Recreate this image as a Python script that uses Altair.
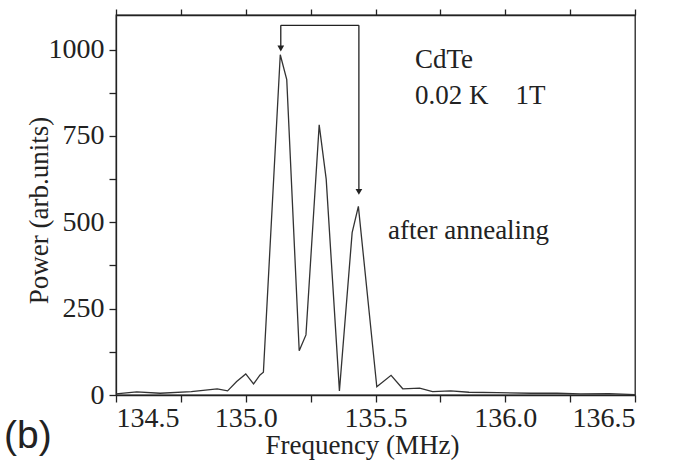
import altair as alt
import pandas as pd

# Spectrum
freq = [134.50, 134.58, 134.67, 134.79, 134.89, 134.93, 134.965, 135.00, 135.03,
        135.055, 135.068, 135.133, 135.158, 135.206, 135.232, 135.283, 135.31,
        135.361, 135.41, 135.434, 135.505, 135.56, 135.605, 135.67, 135.72,
        135.79, 135.86, 135.97, 136.10, 136.20, 136.29, 136.40, 136.50]
power = [3, 9, 5, 10, 18, 12, 39, 61, 32,
         58, 66, 985, 913, 128, 174, 782, 625,
         12, 470, 546, 24, 57, 18, 20, 10,
         12, 8, 7, 5, 5, 3, 4, 1]

x_ticks = [134.5, 134.75, 135.0, 135.25, 135.5, 135.75, 136.0, 136.25, 136.5]
y_ticks = [0, 125, 250, 375, 500, 625, 750, 875, 1000]

# bracket between the first and third peaks
bracket_x = [135.135, 135.436]
bracket_top = 1070
arrow_tips = [1003, 588]

notes_text = ["CdTe", "0.02 K\u00a0\u00a0\u00a0\u00a01T", "after annealing"]
notes_x = [135.652, 135.652, 135.548]
notes_y = [948, 843, 452]

df = pd.DataFrame({"freq": freq, "power": power})
xs = alt.Scale(domain=[134.5, 136.5], nice=False, zero=False)
ys = alt.Scale(domain=[0, 1100], nice=False)

FONT = "Liberation Serif"

x_axis = alt.Axis(
    values=x_ticks,
    labelExpr="abs(datum.value*2 - round(datum.value*2)) < 0.001 ? format(datum.value, '.1f') : ''",
    title="Frequency (MHz)", grid=False, tickSize=7, labelPadding=2,
    labelFontSize=28, titleFontSize=27, titleFontWeight="normal",
    titleX=246, titleY=58, titleBaseline="alphabetic", titleAnchor="middle",
)
y_axis = alt.Axis(
    values=y_ticks,
    labelExpr="datum.value % 250 == 0 ? format(datum.value, 'd') : ''",
    title="Power (arb.units)", grid=False, tickSize=7, labelPadding=5,
    labelFontSize=28, titleFontSize=27, titleFontWeight="normal",
    titleX=-69, titleY=195, titleBaseline="alphabetic", titleAnchor="middle",
)

line = alt.Chart(df).mark_line(color="#333333", strokeWidth=1.3).encode(
    x=alt.X("freq:Q", scale=xs, axis=x_axis),
    y=alt.Y("power:Q", scale=ys, axis=y_axis),
)

top_axis = alt.Chart(df).mark_line(opacity=0).encode(
    x=alt.X("freq:Q", scale=xs, axis=alt.Axis(orient="top", values=x_ticks, labels=False,
                                               title=None, grid=False, tickSize=6)),
    y=alt.Y("power:Q", scale=ys),
)

br_df = pd.DataFrame({"x1": [bracket_x[0]], "x2": [bracket_x[1]], "y": [bracket_top]})
br_h = alt.Chart(br_df).mark_rule(color="#222222", strokeWidth=1.3).encode(
    x=alt.X("x1:Q", scale=xs, axis=None), x2="x2:Q", y=alt.Y("y:Q", scale=ys))

vert_df = pd.DataFrame({"x": bracket_x, "top": [bracket_top] * 2, "tip": arrow_tips})
br_v = alt.Chart(vert_df).mark_rule(color="#222222", strokeWidth=1.3).encode(
    x=alt.X("x:Q", scale=xs, axis=None), y=alt.Y("top:Q", scale=ys), y2="tip:Q")
heads = alt.Chart(vert_df).mark_point(shape="triangle-down", filled=True, color="#222222",
                                      size=45, opacity=1).encode(
    x=alt.X("x:Q", scale=xs, axis=None), y=alt.Y("tip:Q", scale=ys))

notes_df = pd.DataFrame({"t": notes_text, "x": notes_x, "y": notes_y})
notes = alt.Chart(notes_df).mark_text(font=FONT, fontSize=27, align="left",
                                      baseline="alphabetic", color="#222222").encode(
    x=alt.X("x:Q", scale=xs, axis=None), y=alt.Y("y:Q", scale=ys), text="t:N")

label_b = alt.Chart(pd.DataFrame({"t": ["(b)"]})).mark_text(
    font="Liberation Sans", fontSize=39, align="left", baseline="alphabetic", color="#222222"
).encode(x=alt.value(-112), y=alt.value(433), text="t:N")

chart = alt.layer(line, top_axis, br_h, br_v, heads, notes, label_b).resolve_axis(
    x="independent"
).properties(
    width=519, height=380,
    autosize=alt.AutoSizeParams(type="none"),
    padding={"left": 116, "top": 15, "right": 38, "bottom": 72},
    background="white",
).configure_view(stroke="#222222", strokeWidth=1.3).configure_axis(
    labelFont=FONT, titleFont=FONT, domainColor="#222222", tickColor="#222222",
    labelColor="#222222", titleColor="#222222", domainWidth=1.3, tickWidth=1.3,
)

chart.save("out.html", embed_options={"renderer": "svg", "actions": False})
